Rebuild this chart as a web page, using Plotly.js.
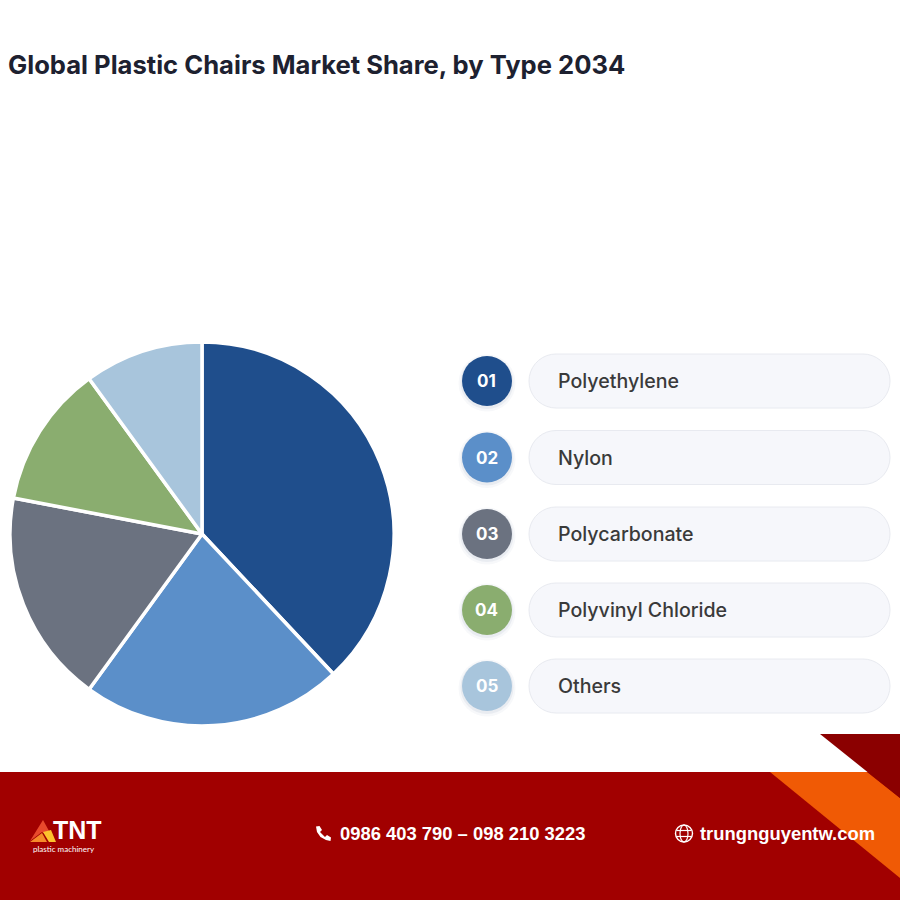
<!DOCTYPE html>
<html>
<head>
<meta charset="utf-8">
<script src="https://cdn.plot.ly/plotly-3.0.1.min.js"></script>
<style>
  html, body { margin: 0; padding: 0; background: #fff; }
  #plot { width: 900px; height: 900px; }
</style>
</head>
<body>
<div id="plot"></div>
<script>
const categories = ["Polyethylene", "Nylon", "Polycarbonate", "Polyvinyl Chloride", "Others"];
const shares = [38, 22, 18, 12, 10];
const sliceColors = ["#1f4e8c", "#5b8fc9", "#6b7280", "#8aad6f", "#a8c5dc"];
const rowNumbers = ["01", "02", "03", "04", "05"];
const rowCenters = [381, 457.5, 534, 610, 686];

const titleText = "Global Plastic Chairs Market Share, by Type 2034";
const phoneText = "0986 403 790 – 098 210 3223";
const siteText = "trungnguyentw.com";

// everything outside the pie is placed in pixels of the 900x900 page
const px = x => x / 900;
const py = y => 1 - y / 900;

function polygon(points, fill) {
    const path = points.map((p, i) => (i ? "L" : "M") + px(p[0]) + "," + py(p[1])).join(" ") + " Z";
    return { type: "path", xref: "paper", yref: "paper", path: path, fillcolor: fill, line: { width: 0 } };
}

function circle(cx, cy, r, fill, lineColor, lineWidth) {
    return {
        type: "circle", xref: "paper", yref: "paper",
        x0: px(cx - r), x1: px(cx + r), y0: py(cy + r), y1: py(cy - r),
        fillcolor: fill,
        line: { color: lineColor || fill, width: lineWidth === undefined ? 0 : lineWidth }
    };
}

function pill(x0, x1, cy, h, fill, lineColor) {
    const r = h / 2;
    // arc corners drawn with short line runs because paper coords are not square in path space
    const pts = [];
    for (let a = -90; a <= 90; a += 10) {
        const t = a * Math.PI / 180;
        pts.push([x1 - r + r * Math.cos(t), cy + r * Math.sin(t)]);
    }
    for (let a = 90; a <= 270; a += 10) {
        const t = a * Math.PI / 180;
        pts.push([x0 + r + r * Math.cos(t), cy + r * Math.sin(t)]);
    }
    const s = polygon(pts, fill);
    s.line = { color: lineColor, width: 1 };
    return s;
}

function label(x, y, text, size, color, family, anchor, weight) {
    return {
        xref: "paper", yref: "paper", x: px(x), y: py(y),
        xanchor: anchor, yanchor: "middle", showarrow: false,
        text: text,
        font: { size: size, color: color, family: family, weight: weight }
    };
}

const shapes = [];
const annotations = [];

categories.forEach((name, i) => {
    const cy = rowCenters[i];
    shapes.push(circle(487, cy + 2, 28.5, "rgba(120,140,170,0.06)"));
    shapes.push(circle(487, cy + 1.5, 26.5, "rgba(120,140,170,0.10)"));
    shapes.push(circle(487, cy, 25, sliceColors[i]));
    shapes.push(pill(529, 890, cy, 54, "#f6f7fb", "#e8eaf0"));
    annotations.push(label(486.5, cy, rowNumbers[i], 17, "#ffffff", "Inter, sans-serif", "center", 700));
    annotations.push(label(555.5, cy, name, 19.6, "#3a3a3a", "Inter, sans-serif", "left", 500));
});

annotations.push(label(6, 65, titleText, 25.6, "#1d2130", "Inter, sans-serif", "left", 700));

// footer band and corner wedges
shapes.push(polygon([[0, 772], [900, 772], [900, 900], [0, 900]], "#a10000"));
shapes.push(polygon([[770, 772], [867, 772], [900, 798], [900, 878]], "#f05a05"));
shapes.push(polygon([[820, 734], [900, 734], [900, 798]], "#8b0000"));

// logo
shapes.push(polygon([[43, 820], [54, 840], [42, 832], [30, 841]], "#e8492c"));
shapes.push(polygon([[30, 842], [42, 833], [47, 842]], "#f58a2b"));
shapes.push(polygon([[43, 832], [51, 830], [56, 842], [49, 842]], "#fcc22d"));
annotations.push(label(50.5, 830, "TNT", 25, "#ffffff", "Liberation Sans, sans-serif", "left", 700));
annotations.push(label(31, 849, "plastic machinery", 8, "#ffffff", "Lato, sans-serif", "left", 400));

// phone icon
shapes.push({
    type: "path", xref: "paper", yref: "paper", fillcolor: "#ffffff", line: { width: 0 },
    path: [[316, 826.5], [319.5, 826], [322, 830], [320, 832], [325, 837], [327, 835],
           [331, 837.5], [330.5, 841], [326, 840], [320.5, 837], [317, 832]]
        .map((p, i) => (i ? "L" : "M") + px(p[0]) + "," + py(p[1])).join(" ") + " Z"
});
annotations.push(label(338, 833, phoneText, 18.4, "#ffffff", "Liberation Sans, sans-serif", "left", 700));

// globe icon
shapes.push({
    type: "circle", xref: "paper", yref: "paper",
    x0: px(675.5), x1: px(692.5), y0: py(842), y1: py(825),
    fillcolor: "rgba(0,0,0,0)", line: { color: "#ffffff", width: 1.4 }
});
shapes.push({
    type: "circle", xref: "paper", yref: "paper",
    x0: px(680), x1: px(688), y0: py(842), y1: py(825),
    fillcolor: "rgba(0,0,0,0)", line: { color: "#ffffff", width: 1.2 }
});
[830.5, 836.5].forEach(y => {
    shapes.push({
        type: "line", xref: "paper", yref: "paper",
        x0: px(676.5), x1: px(691.5), y0: py(y), y1: py(y),
        line: { color: "#ffffff", width: 1.2 }
    });
});
annotations.push(label(698, 833, siteText, 18.4, "#ffffff", "Liberation Sans, sans-serif", "left", 700));

const data = [
    {
        type: "pie",
        labels: categories,
        values: shares,
        sort: false,
        direction: "clockwise",
        rotation: 0,
        textinfo: "none",
        hoverinfo: "label+percent",
        marker: { colors: sliceColors, line: { color: "#ffffff", width: 3.5 } },
        domain: { x: [px(10), px(394)], y: [py(726), py(342)] }
    }
];

const layout = {
    width: 900,
    height: 900,
    margin: { l: 0, r: 0, t: 0, b: 0 },
    paper_bgcolor: "#ffffff",
    showlegend: false,
    shapes: shapes,
    annotations: annotations
};

Plotly.newPlot("plot", data, layout, { displayModeBar: false });
</script>
</body>
</html>
